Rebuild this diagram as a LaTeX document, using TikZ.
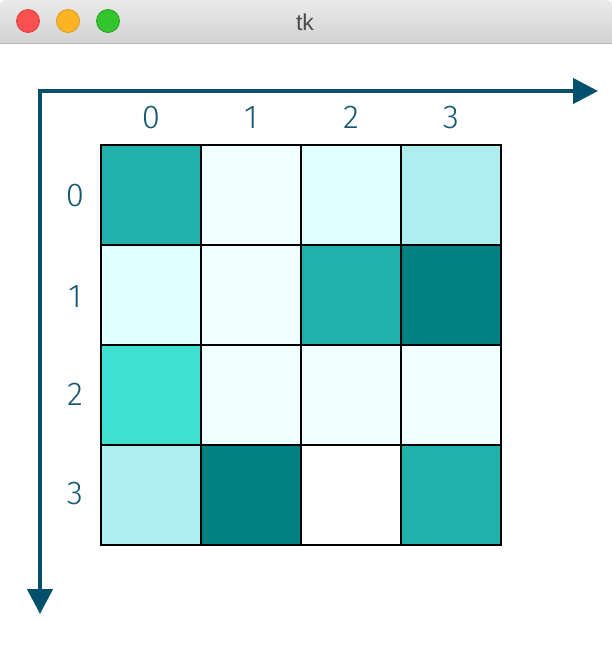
\documentclass[tikz,border=0pt]{standalone}
\usepackage{fontspec}
\setmainfont{Open Sans}
\newfontfamily\digitfont{Fira Sans Light}
\newfontfamily\titlefont{Liberation Sans}
\usetikzlibrary{arrows.meta}

\definecolor{axisblue}{RGB}{2,80,107}
\definecolor{digitblue}{RGB}{20,88,112}
\definecolor{seagreen}{RGB}{32,178,170}
\definecolor{azurecol}{RGB}{240,255,255}
\definecolor{cyancol}{RGB}{224,255,255}
\definecolor{paleturq}{RGB}{175,238,238}
\definecolor{tealcol}{RGB}{0,128,128}
\definecolor{turq}{RGB}{64,224,208}
\definecolor{bartop}{RGB}{234,234,234}
\definecolor{barbot}{RGB}{210,210,210}
\definecolor{barline}{RGB}{178,178,178}
\definecolor{titlegray}{RGB}{74,74,74}
\definecolor{closered}{RGB}{252,80,80}
\definecolor{closeedge}{RGB}{222,62,62}
\definecolor{minorange}{RGB}{253,180,36}
\definecolor{minedge}{RGB}{220,150,28}
\definecolor{zoomgreen}{RGB}{52,196,45}
\definecolor{zoomedge}{RGB}{38,160,34}

\tikzstyle{cell} = [draw=black, line width=2pt, minimum size=100pt, inner sep=0pt]
\tikzstyle{idx} = [text=digitblue, inner sep=0pt, font=\digitfont\fontsize{33}{33}\selectfont]
\tikzstyle{light} = [circle, minimum size=23pt, inner sep=0pt, line width=0.8pt]
\tikzstyle{axis} = [draw=axisblue, line width=4.5pt, line join=miter,
	arrows={Triangle[length=25pt,width=25pt]-Triangle[length=25pt,width=25pt]}]

\begin{document}
\begin{tikzpicture}[x=1pt,y=-1pt]
	\useasboundingbox (0,0) rectangle (612,656);
	\fill[white] (0,0) rectangle (612,656);
	
	% title bar
	\shade[top color=bartop, bottom color=barbot] (0,43) [rounded corners=6pt] -- (0,0) -- (612,0) [sharp corners] -- (612,43) -- cycle;
	\draw[barline, line width=1pt] (0,43) -- (612,43);
	\node[light, fill=closered, draw=closeedge] (close) at (28,21) {};
	\node[light, fill=minorange, draw=minedge] (minimise) at (68,21) {};
	\node[light, fill=zoomgreen, draw=zoomedge] (zoom) at (108,21) {};
	\node[text=titlegray, font=\titlefont\fontsize{23}{23}\selectfont] (title) at (305,22) {tk};
	
	% axes
	\coordinate (origin) at (40,91);
	\coordinate (xend) at (598,91);
	\coordinate (yend) at (40,614);
	\draw[axis] (xend) -- (origin) -- (yend);
	
	\node[idx] (col0) at (151,117.5) {0};
	\node[idx] (col1) at (251,117.5) {1};
	\node[idx] (col2) at (351,117.5) {2};
	\node[idx] (col3) at (451,117.5) {3};
	
	\node[idx] (row0) at (75,196) {0};
	\node[idx] (row1) at (75,297) {1};
	\node[idx] (row2) at (75,394) {2};
	\node[idx] (row3) at (75,494) {3};
	
	% matrix cells
	\node[cell, fill=seagreen] (c00) at (151,195) {};
	\node[cell, fill=azurecol] (c01) at (251,195) {};
	\node[cell, fill=cyancol] (c02) at (351,195) {};
	\node[cell, fill=paleturq] (c03) at (451,195) {};
	
	\node[cell, fill=cyancol] (c10) at (151,295) {};
	\node[cell, fill=azurecol] (c11) at (251,295) {};
	\node[cell, fill=seagreen] (c12) at (351,295) {};
	\node[cell, fill=tealcol] (c13) at (451,295) {};
	
	\node[cell, fill=turq] (c20) at (151,395) {};
	\node[cell, fill=azurecol] (c21) at (251,395) {};
	\node[cell, fill=azurecol] (c22) at (351,395) {};
	\node[cell, fill=azurecol] (c23) at (451,395) {};
	
	\node[cell, fill=paleturq] (c30) at (151,495) {};
	\node[cell, fill=tealcol] (c31) at (251,495) {};
	\node[cell, fill=white] (c32) at (351,495) {};
	\node[cell, fill=seagreen] (c33) at (451,495) {};
\end{tikzpicture}
\end{document}
